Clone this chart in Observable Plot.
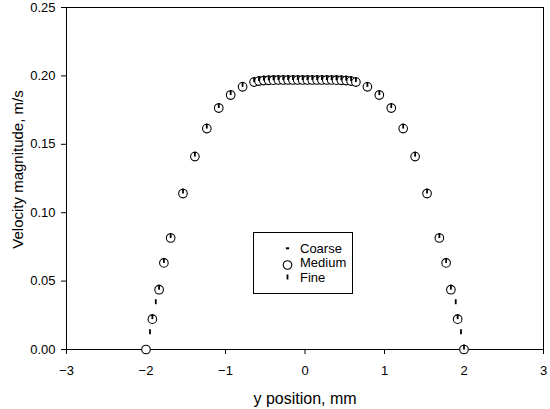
<!DOCTYPE html>
<html><head><meta charset="utf-8">
<script src="https://cdn.jsdelivr.net/npm/d3@7"></script>
<script src="https://cdn.jsdelivr.net/npm/@observablehq/plot@0.6"></script>
<style>body{margin:0;background:#fff} #chart{width:550px;height:409px}</style>
</head><body><div id="chart"></div>
<script>
const mediumX = [-2.0, -1.92, -1.835, -1.775, -1.69, -1.535, -1.385, -1.235, -1.085, -0.935, -0.785,
  -0.64, -0.579, -0.518, -0.457, -0.396, -0.335, -0.274, -0.213, -0.152, -0.091, -0.030,
  0.030, 0.091, 0.152, 0.213, 0.274, 0.335, 0.396, 0.457, 0.518, 0.579, 0.64,
  0.785, 0.935, 1.085, 1.235, 1.385, 1.535, 1.69, 1.775, 1.835, 1.92, 2.0];
const mediumY = [0.0, 0.0222, 0.0437, 0.0633, 0.0815, 0.114, 0.141, 0.1615, 0.1765, 0.186, 0.192,
  0.1955, 0.1962, 0.1966, 0.1968, 0.1969, 0.197, 0.197, 0.197, 0.197, 0.197, 0.197,
  0.197, 0.197, 0.197, 0.197, 0.197, 0.197, 0.1969, 0.1968, 0.1966, 0.1962, 0.1955,
  0.192, 0.186, 0.1765, 0.1615, 0.141, 0.114, 0.0815, 0.0633, 0.0437, 0.0222, 0.0];
const coarseX = mediumX.slice();
const coarseY = mediumY.slice();
const fineX = [-1.95, -1.92, -1.877, -1.835, -1.775, -1.69, -1.535, -1.385, -1.235, -1.085, -0.935, -0.785,
  -0.64, -0.579, -0.518, -0.457, -0.396, -0.335, -0.274, -0.213, -0.152, -0.091, -0.030,
  0.030, 0.091, 0.152, 0.213, 0.274, 0.335, 0.396, 0.457, 0.518, 0.579, 0.64,
  0.785, 0.935, 1.085, 1.235, 1.385, 1.535, 1.69, 1.775, 1.835, 1.896, 1.92, 1.962, 2.0];
const fineY = [0.0112, 0.0222, 0.0331, 0.0437, 0.0633, 0.0815, 0.114, 0.141, 0.1615, 0.1765, 0.186, 0.192,
  0.1955, 0.1962, 0.1966, 0.1968, 0.1969, 0.197, 0.197, 0.197, 0.197, 0.197, 0.197,
  0.197, 0.197, 0.197, 0.197, 0.197, 0.197, 0.1969, 0.1968, 0.1966, 0.1962, 0.1955,
  0.192, 0.186, 0.1765, 0.1615, 0.141, 0.114, 0.0815, 0.0633, 0.0437, 0.0331, 0.0222, 0.0112, 0.0];
const seriesNames = ["Coarse", "Medium", "Fine"];
const xTicks = [-3, -2, -1, 0, 1, 2, 3];
const yTicks = [0, 0.05, 0.10, 0.15, 0.20, 0.25];
const xTitle = "y position, mm";
const yTitle = "Velocity magnitude, m/s";

const toRows = (xs, ys) => xs.map((x, i) => ({x, y: ys[i]}));
const coarse = toRows(coarseX, coarseY);
const medium = toRows(mediumX, mediumY);
const fine = toRows(fineX, fineY);

const dashSymbol = {draw(ctx, size) { const r = Math.sqrt(size / Math.PI); ctx.moveTo(-r, 0); ctx.lineTo(r, 0); }};
const tickSymbol = {draw(ctx, size) { const r = Math.sqrt(size / Math.PI); ctx.moveTo(0, 0); ctx.lineTo(0, -r); }};

const font = "'Liberation Sans', Arial, sans-serif";
const chart = Plot.plot({
  width: 550, height: 409,
  marginLeft: 66, marginRight: 7, marginTop: 7, marginBottom: 60,
  style: {fontFamily: font, fontSize: "13px", background: "#fff", color: "#000"},
  x: {domain: [-3, 3]},
  y: {domain: [0, 0.25]},
  marks: [
    Plot.axisX({ticks: xTicks, tickSize: 5, tickPadding: 11, label: null, tickFormat: d3.format("d"), fontSize: 13}),
    Plot.axisY({ticks: yTicks, tickSize: 5, tickPadding: 6, label: null, tickFormat: d3.format(".2f"), fontSize: 13}),
    Plot.frame({stroke: "#000"}),
    Plot.dot(coarse, {x: "x", y: "y", symbol: dashSymbol, r: 1.5, stroke: "#000", strokeWidth: 2}),
    Plot.dot(medium, {x: "x", y: "y", r: 4.3, fill: "#fff", stroke: "#000", strokeWidth: 1.1}),
    Plot.dot(fine, {x: "x", y: "y", symbol: tickSymbol, r: 5, stroke: "#000", strokeWidth: 1.8}),
    Plot.text([xTitle], {frameAnchor: "bottom", dy: 49, fontSize: 16, lineAnchor: "middle", textAnchor: "middle", fill: "#000"}),
    Plot.text([yTitle], {frameAnchor: "left", dx: -48, dy: -9, rotate: -90, fontSize: 15, textAnchor: "middle", lineAnchor: "middle", fill: "#000"})
  ]
});
document.getElementById("chart").appendChild(chart);

const svg = d3.select(chart);
const lg = svg.append("g").attr("font-family", font).attr("font-size", 13).attr("text-anchor", "start");
lg.append("rect").attr("x", 253.5).attr("y", 232.5).attr("width", 99).attr("height", 61)
  .attr("fill", "#fff").attr("stroke", "#000").attr("stroke-width", 1);
const symPath = (sym, size) => d3.symbol(sym, size)();
const rows = [
  {name: seriesNames[0], sym: dashSymbol, size: 1.6 * 1.6 * Math.PI, sy: 248.3, ty: 252.5, fill: "none", sw: 2},
  {name: seriesNames[1], sym: d3.symbolCircle, size: 4.3 * 4.3 * Math.PI, sy: 265, ty: 267.2, fill: "#fff", sw: 1.1},
  {name: seriesNames[2], sym: tickSymbol, size: 5 * 5 * Math.PI, sy: 279.5, ty: 281.5, fill: "none", sw: 1.8}
];
rows.forEach(r => {
  lg.append("path").attr("d", symPath(r.sym, r.size)).attr("transform", `translate(287.5,${r.sy})`)
    .attr("fill", r.fill).attr("stroke", "#000").attr("stroke-width", r.sw);
  lg.append("text").attr("x", 300).attr("y", r.ty).attr("fill", "#000").text(r.name);
});
</script>
</body></html>
